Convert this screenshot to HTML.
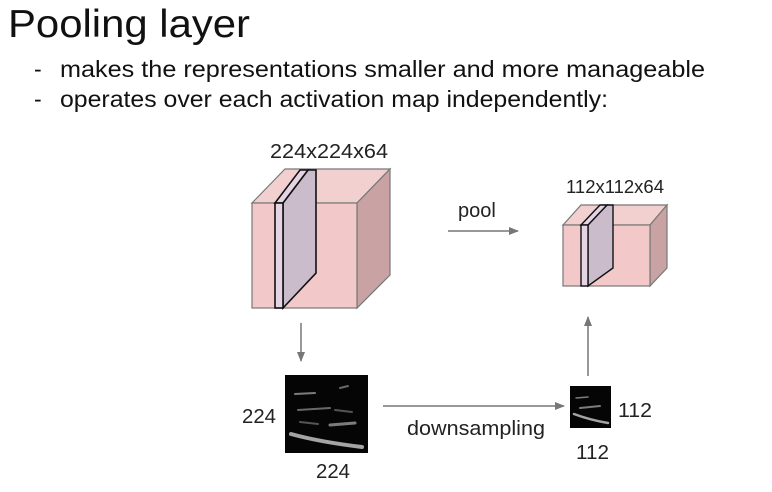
<!DOCTYPE html>
<html><head><meta charset="utf-8"><style>
html,body{margin:0;padding:0;background:#fff;}
svg{display:block;font-family:"Liberation Sans",Arial,sans-serif;}
</style></head><body>
<svg width="772" height="492" viewBox="0 0 772 492" xmlns="http://www.w3.org/2000/svg">
<defs>
<marker id="ah" markerWidth="10" markerHeight="8" refX="9" refY="4" orient="auto" markerUnits="userSpaceOnUse">
<path d="M0,0 L10,4 L0,8 z" fill="#777"/></marker>
</defs>
<text x="8" y="37" font-size="39" fill="#111" textLength="242" lengthAdjust="spacingAndGlyphs">Pooling layer</text>
<text x="34" y="77" font-size="23" fill="#111">-</text>
<text x="60" y="77" font-size="23.5" fill="#111" textLength="645" lengthAdjust="spacingAndGlyphs">makes the representations smaller and more manageable</text>
<text x="34" y="107" font-size="23" fill="#111">-</text>
<text x="60" y="107" font-size="23.5" fill="#111" textLength="548" lengthAdjust="spacingAndGlyphs">operates over each activation map independently:</text>

<!-- big cube -->
<text x="270" y="158" font-size="20" fill="#222" textLength="118" lengthAdjust="spacingAndGlyphs">224x224x64</text>
<g stroke="#777" stroke-width="1.2">
<polygon points="252,203 285,169 390,169 357,203" fill="#f3d0d0"/>
<polygon points="357,203 390,169 390,275 357,308" fill="#c9a3a3"/>
<rect x="252" y="203" width="105" height="105" fill="#f3c8c8"/>
</g>
<g stroke="#111" stroke-width="1.6">
<polygon points="283,203 308,170 316,170 316,273 283,308" fill="#cbbccb"/>
<polygon points="275,203 300,170 308,170 283,203" fill="#e4d4e4"/>
<rect x="275" y="203" width="8" height="105" fill="#e4d4e4"/>
</g>

<!-- small cube -->
<text x="566" y="193" font-size="18.5" fill="#222" textLength="98" lengthAdjust="spacingAndGlyphs">112x112x64</text>
<g stroke="#777" stroke-width="1.2">
<polygon points="563,225 581,205 667,205 650,225" fill="#f3d0d0"/>
<polygon points="650,225 667,205 667,268 650,286" fill="#c9a3a3"/>
<rect x="563" y="225" width="87" height="61" fill="#f3c8c8"/>
</g>
<g stroke="#111" stroke-width="1.4">
<polygon points="588,225 607,205 613,205 613,268 588,286" fill="#cbbccb"/>
<polygon points="581,225 600,205 607,205 588,225" fill="#e4d4e4"/>
<rect x="581" y="225" width="7" height="61" fill="#e4d4e4"/>
</g>

<!-- arrows -->
<text x="458" y="217" font-size="20" fill="#222">pool</text>
<line x1="448" y1="231" x2="518" y2="231" stroke="#777" stroke-width="1.5" marker-end="url(#ah)"/>
<line x1="301" y1="323" x2="301" y2="361" stroke="#777" stroke-width="1.5" marker-end="url(#ah)"/>
<line x1="588" y1="376" x2="588" y2="317" stroke="#777" stroke-width="1.5" marker-end="url(#ah)"/>
<line x1="383" y1="406" x2="564" y2="406" stroke="#777" stroke-width="1.5" marker-end="url(#ah)"/>

<!-- images -->
<rect x="285" y="375" width="83" height="78" fill="#050505"/>
<g stroke="#ccc" stroke-linecap="round" fill="none">
<path d="M291,434 Q320,442 362,447" stroke-width="4" opacity="0.8"/>
<path d="M295,394 L315,393" stroke-width="2" opacity="0.6"/>
<path d="M298,410 L330,408" stroke-width="2" opacity="0.5"/>
<path d="M330,425 L355,423" stroke-width="3" opacity="0.6"/>
<path d="M340,388 L348,386" stroke-width="2" opacity="0.5"/>
<path d="M300,422 L318,424" stroke-width="2" opacity="0.4"/>
<path d="M335,410 L352,412" stroke-width="2" opacity="0.4"/>
</g>
<rect x="570" y="386" width="41" height="42" fill="#050505"/>
<g stroke="#ccc" stroke-linecap="round" fill="none">
<path d="M574,414 Q590,420 608,423" stroke-width="2.5" opacity="0.8"/>
<path d="M576,398 L588,397" stroke-width="1.5" opacity="0.6"/>
<path d="M580,408 L600,406" stroke-width="2" opacity="0.6"/>
</g>

<text x="242" y="423" font-size="20.5" fill="#222" textLength="34" lengthAdjust="spacingAndGlyphs">224</text>
<text x="316" y="478" font-size="20.5" fill="#222" textLength="34" lengthAdjust="spacingAndGlyphs">224</text>
<text x="407" y="435" font-size="20.5" fill="#222" textLength="138" lengthAdjust="spacingAndGlyphs">downsampling</text>
<text x="618" y="417" font-size="20.5" fill="#222" textLength="34" lengthAdjust="spacingAndGlyphs">112</text>
<text x="576" y="459" font-size="20.5" fill="#222" textLength="33" lengthAdjust="spacingAndGlyphs">112</text>
</svg>
</body></html>
